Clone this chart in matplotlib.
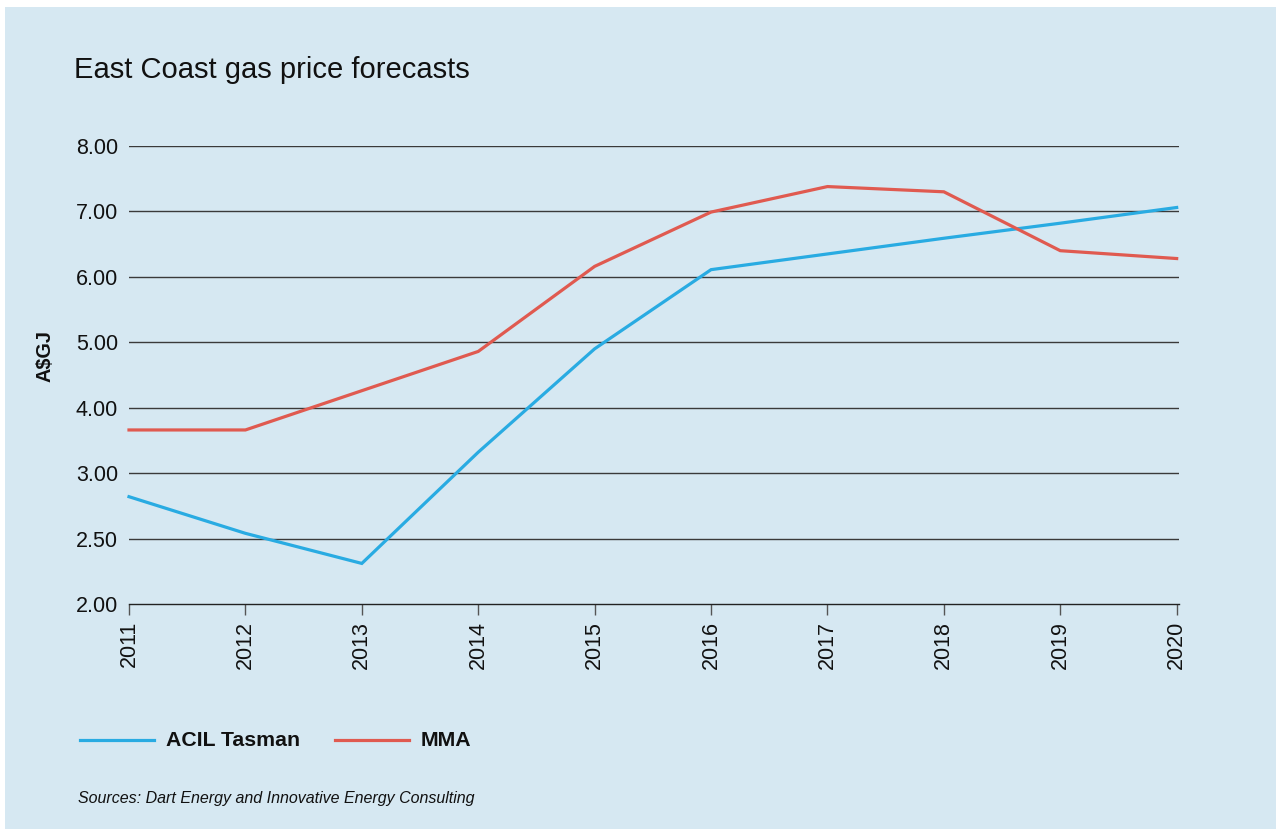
import numpy as np
import matplotlib
matplotlib.use("Agg")
import matplotlib.pyplot as plt
from matplotlib.patches import Rectangle
from matplotlib.lines import Line2D

years = [2011, 2012, 2013, 2014, 2015, 2016, 2017, 2018, 2019, 2020]
acil_tasman = [2.82, 2.54, 2.31, 3.32, 4.90, 6.11, 6.35, 6.59, 6.82, 7.06]
mma = [3.66, 3.66, 4.26, 4.86, 6.16, 6.99, 7.38, 7.30, 6.40, 6.28]
y_ticks = [2.0, 2.5, 3.0, 4.0, 5.0, 6.0, 7.0, 8.0]
y_tick_labels = ["2.00", "2.50", "3.00", "4.00", "5.00", "6.00", "7.00", "8.00"]

title = "East Coast gas price forecasts"
ylabel = "A$GJ"
source = "Sources: Dart Energy and Innovative Energy Consulting"

plt.rcParams['font.family'] = ['Liberation Sans', 'DejaVu Sans']

W, H = 1283, 834
fig = plt.figure(figsize=(W / 100, H / 100), dpi=100)
fig.patch.set_facecolor('white')
bg = '#d6e8f2'
fig.patches.append(Rectangle((5 / W, 1 - 829 / H), (1276 - 5) / W, (829 - 7) / H,
                             transform=fig.transFigure, facecolor=bg,
                             edgecolor='none', zorder=-10))

ax = fig.add_axes([129 / W, 1 - 604 / H, (1179 - 129) / W, (604 - 146) / H])
ax.set_facecolor('none')

idx = np.arange(len(y_ticks), dtype=float)
tv = np.array(y_ticks)

def fwd(v):
    return np.interp(np.asarray(v, dtype=float), tv, idx)

def inv(p):
    return np.interp(np.asarray(p, dtype=float), idx, tv)

ax.set_yscale('function', functions=(fwd, inv))
ax.set_ylim(2.0, 8.0)
ax.set_xlim(2011, 2020.02)

for v in y_ticks[1:]:
    ax.axhline(v, color='#3a3a3a', lw=1.0, zorder=1)

ax.plot(years, acil_tasman, color='#29abe2', lw=2.3, zorder=3, clip_on=False,
        solid_joinstyle='miter', label='ACIL Tasman')
ax.plot(years, mma, color='#e05a50', lw=2.3, zorder=3, clip_on=False,
        solid_joinstyle='miter', label='MMA')

ax.set_yticks(y_ticks)
ax.set_yticklabels(y_tick_labels)
ax.yaxis.set_minor_locator(matplotlib.ticker.NullLocator())
ax.set_xticks(years)
ax.set_xticklabels([str(y) for y in years], rotation=90)

for s in ['top', 'right', 'left']:
    ax.spines[s].set_visible(False)
ax.spines['bottom'].set_color('#222222')
ax.spines['bottom'].set_linewidth(1.0)
ax.tick_params(axis='y', length=0, pad=8, labelsize=15.5, labelcolor='#111111')
ax.tick_params(axis='x', length=8, width=1.0, color='#555555', pad=4,
               labelsize=15.5, labelcolor='#111111', direction='out')

fig.text(74 / W, 1 - 78 / H, title, fontsize=21, color='#111111', va='baseline', ha='left')
fig.text(45 / W, 1 - 356 / H, ylabel, fontsize=14.3, fontweight='bold', rotation=90,
         va='center', ha='center', color='#111111')

# legend
ly = 1 - 740 / H
fig.add_artist(Line2D([80 / W, 154 / W], [ly, ly], color='#29abe2', lw=2.3,
                      transform=fig.transFigure))
fig.text(166 / W, ly, 'ACIL Tasman', fontsize=15.3, fontweight='bold', va='center',
         ha='left', color='#111111')
fig.add_artist(Line2D([335 / W, 409 / W], [ly, ly], color='#e05a50', lw=2.3,
                      transform=fig.transFigure))
fig.text(421 / W, ly, 'MMA', fontsize=15.3, fontweight='bold', va='center',
         ha='left', color='#111111')

fig.text(78 / W, 1 - 798 / H, source, fontsize=11.5, style='italic', va='center',
         ha='left', color='#111111')

fig.savefig('out.png', dpi=100, facecolor='white')
